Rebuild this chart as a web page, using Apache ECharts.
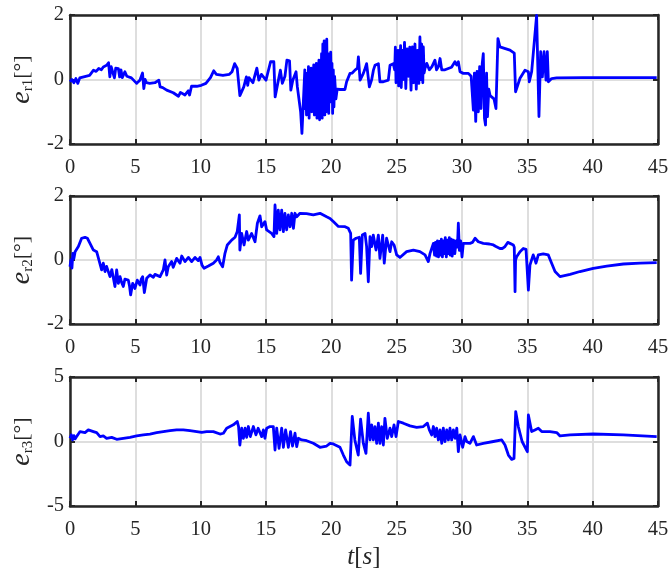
<!DOCTYPE html>
<html>
<head>
<meta charset="utf-8">
<script src="https://cdn.jsdelivr.net/npm/echarts@6/dist/echarts.min.js"></script>
<style>
html,body{margin:0;padding:0;background:#fff;}
#chart{width:672px;height:571px;}
</style>
</head>
<body>
<div id="chart"></div>
<script>
// ---- data: [t (s), value (deg)] ----
const xTicks = [0, 5, 10, 15, 20, 25, 30, 35, 40, 45];

const er1 = [
[0,-0.07],[0.15,0.0],[0.3,-0.1],[0.45,0.03],[0.6,-0.12],[0.75,0.05],[0.9,0.1],[1.2,0.1],[1.5,0.13],[1.8,0.29],[2.0,0.25],[2.2,0.34],[2.4,0.3],[2.55,0.39],[2.8,0.44],[2.95,0.52],[3.05,0.08],[3.15,0.4],[3.3,0.34],[3.4,0.05],[3.5,0.35],[3.7,0.34],[3.8,0.08],[3.9,0.3],[4.0,0.06],[4.2,0.24],[4.35,0.1],[4.5,0.16],[4.7,0.05],[4.85,0.03],[5.1,-0.12],[5.35,-0.02],[5.55,0.2],[5.65,-0.28],[5.75,0.0],[5.85,-0.1],[6.1,-0.12],[6.5,-0.1],[6.8,-0.02],[6.9,-0.23],[7.1,-0.25],[7.4,-0.33],[7.9,-0.41],[8.3,-0.52],[8.45,-0.4],[8.55,-0.43],[8.8,-0.48],[9.05,-0.35],[9.15,-0.48],[9.3,-0.21],[9.7,-0.21],[10.05,-0.18],[10.4,-0.12],[10.75,0.06],[11.0,0.27],[11.2,0.16],[11.7,0.13],[12.2,0.16],[12.4,0.24],[12.6,0.49],[12.8,0.34],[13.0,-0.5],[13.3,-0.23],[13.5,0.08],[13.6,-0.18],[13.7,0.06],[14.0,-0.1],[14.3,0.35],[14.45,-0.02],[14.65,0.16],[15.0,-0.02],[15.35,0.55],[15.6,0.55],[15.7,-0.54],[15.9,-0.12],[16.1,0.29],[16.25,-0.12],[16.45,0.1],[16.6,0.6],[16.8,0.58],[16.9,-0.33],[17.05,-0.02],[17.3,0.24],[17.4,-0.23],[17.5,-0.28],[17.65,-1.0],[17.75,-1.67],[17.9,-1.67],[17.97,0.3],
[18.0,-0.9],[18.05,0.2],[18.1,-1.1],[18.15,0.1],[18.2,-0.7],[18.25,0.4],[18.3,-1.2],[18.35,0.0],[18.4,-0.9],[18.45,0.35],[18.5,-1.0],[18.55,0.3],[18.6,-0.8],[18.65,0.45],[18.7,-1.1],[18.75,0.2],[18.8,-0.9],[18.85,0.5],[18.9,-1.2],[18.95,0.3],[19.0,-0.7],[19.05,0.6],[19.1,-1.25],[19.15,0.4],[19.2,-0.9],[19.25,0.8],[19.3,-1.2],[19.35,1.1],[19.4,-0.6],[19.45,1.2],[19.5,-1.1],[19.55,0.9],[19.6,-1.0],[19.65,1.25],[19.7,-0.5],[19.75,0.8],[19.8,-1.05],[19.85,0.6],[19.9,-0.7],[19.95,0.85],[20.0,-0.3],[20.05,0.5],[20.1,-1.05],[20.15,0.3],[20.2,-0.85],[20.25,0.1],[20.35,-0.6],[20.45,-0.3],[20.66,-0.31],[21.04,-0.31],[21.17,-0.07],[21.43,0.19],[21.6,0.2],[21.81,0.29],[22.0,0.35],[22.07,0.7],[22.2,-0.02],[22.45,0.19],[22.55,0.3],[22.7,0.49],[22.91,-0.23],[23.09,0.0],[23.22,0.29],[23.34,0.44],[23.6,0.49],[23.72,-0.07],[23.98,-0.07],[24.36,-0.02],[24.49,0.44],[24.74,0.49],
[24.85,0.3],[24.9,1.0],[24.95,-0.1],[25.0,0.7],[25.05,0.1],[25.1,0.9],[25.15,-0.2],[25.2,0.8],[25.25,0.2],[25.3,1.05],[25.35,-0.25],[25.45,0.9],[25.5,0.0],[25.6,1.15],[25.7,-0.28],[25.8,0.95],[25.9,0.1],[26.0,1.0],[26.1,-0.33],[26.2,1.01],[26.3,-0.1],[26.4,1.1],[26.5,-0.3],[26.6,0.9],[26.7,-0.12],[26.78,1.32],[26.85,0.0],[26.91,1.1],[27.0,-0.1],[27.04,1.01],[27.1,0.2],[27.17,0.35],[27.3,0.5],[27.42,0.55],[27.5,0.3],[27.7,0.4],[27.93,0.6],[28.05,0.3],[28.2,0.4],[28.32,0.65],[28.45,0.3],[28.57,0.34],[28.7,0.3],[28.83,0.34],[29.0,0.35],[29.2,0.38],[29.46,0.55],[29.6,0.45],[29.72,0.55],[29.85,0.24],[30.1,0.19],[30.49,0.19],[30.7,0.1],
[30.87,-0.95],[30.95,0.2],[31.05,-1.3],[31.15,0.25],[31.25,-1.0],[31.35,0.4],[31.45,-0.9],[31.55,0.5],[31.63,0.8],[31.72,-1.2],[31.8,-1.41],[31.88,0.2],[31.95,-1.15],[32.05,-0.3],[32.15,-0.5],[32.3,-0.45],[32.45,-0.6],[32.6,-0.9],[32.7,-0.85],[32.75,1.27],[32.9,1.01],[33.67,0.91],[34.0,0.82],[34.1,-0.38],[34.44,0.04],[34.82,0.29],[35.08,0.24],[35.15,-0.07],[35.33,0.24],[35.71,1.99],[35.89,-1.15],[36.02,0.86],[36.15,0.08],[36.28,0.86],[36.43,-0.02],[36.53,0.86],[36.61,-0.07],[36.86,0.03],[37.24,0.05],[39.28,0.06],[44.9,0.06]
];

const er2 = [
[0,-0.21],[0.07,0.0],[0.15,-0.25],[0.22,0.21],[0.3,0.05],[0.39,0.26],[0.5,0.25],[0.64,0.42],[0.89,0.68],[1.0,0.7],[1.15,0.71],[1.33,0.68],[1.53,0.52],[1.79,0.31],[1.9,0.25],[2.04,0.26],[2.15,0.1],[2.24,0.05],[2.42,-0.31],[2.55,-0.1],[2.68,-0.36],[2.8,-0.2],[2.93,-0.26],[3.06,-0.52],[3.2,-0.3],[3.32,-0.26],[3.44,-0.83],[3.57,-0.31],[3.7,-0.73],[3.83,-0.52],[3.95,-0.7],[4.08,-0.83],[4.2,-0.6],[4.29,-0.63],[4.46,-0.63],[4.55,-0.8],[4.64,-1.09],[4.8,-0.73],[4.97,-0.89],[5.15,-0.63],[5.36,-0.78],[5.45,-0.6],[5.56,-0.52],[5.69,-1.02],[5.87,-0.57],[6.12,-0.47],[6.38,-0.54],[6.5,-0.45],[6.63,-0.42],[6.89,-0.52],[7.14,-0.31],[7.27,0.0],[7.4,-0.47],[7.52,-0.21],[7.78,-0.05],[7.9,-0.23],[8.16,0.05],[8.42,-0.1],[8.55,0.125],[8.8,-0.05],[9.06,0.08],[9.31,-0.05],[9.57,0.08],[9.82,-0.02],[9.95,0.08],[10.1,-0.16],[10.26,-0.26],[10.59,-0.19],[10.97,-0.1],[11.22,0.0],[11.35,0.1],[11.48,-0.08],[11.68,-0.21],[11.86,0.21],[12.04,0.47],[12.37,0.62],[12.63,0.71],[12.8,0.89],[12.96,1.41],[13.0,0.31],[13.14,0.83],[13.32,0.47],[13.52,0.89],[13.65,0.62],[13.9,0.83],[14.16,0.57],[14.34,1.15],[14.54,1.38],[14.67,1.04],[14.92,1.2],[15.05,0.94],[15.18,0.89],[15.43,0.83],[15.61,0.73],[15.69,1.72],[15.82,0.83],[15.94,1.56],[16.07,0.94],[16.2,1.56],[16.33,0.89],[16.45,1.46],[16.58,0.94],[16.71,1.41],[16.84,1.04],[16.97,1.46],[17.1,0.99],[17.22,1.46],[17.35,1.35],[17.6,1.46],[18.1,1.45],[18.62,1.41],[19.13,1.46],[19.64,1.35],[19.9,1.3],[20.15,1.2],[20.28,1.15],[20.54,1.05],[20.66,1.05],[21.05,1.04],[21.3,0.99],[21.48,0.83],[21.55,-0.63],[21.68,0.62],[21.89,0.68],[22.0,0.65],[22.14,0.71],[22.24,-0.42],[22.37,0.78],[22.58,0.83],[22.7,0.42],[22.83,-0.68],[22.96,0.73],[23.09,0.42],[23.21,0.78],[23.42,0.31],[23.6,0.78],[23.72,0.05],[23.93,0.78],[24.05,-0.1],[24.23,0.68],[24.49,0.26],[24.62,0.57],[24.8,0.47],[25.0,0.16],[25.25,0.08],[25.76,0.26],[26.28,0.31],[26.78,0.26],[27.17,0.16],[27.42,-0.05],[27.55,0.2],[27.68,0.26],[27.81,0.52],
[27.9,0.15],[27.97,0.55],[28.05,0.12],[28.12,0.6],[28.2,0.1],[28.28,0.58],[28.35,0.15],[28.42,0.65],[28.5,0.1],[28.58,0.6],[28.65,0.2],[28.72,0.7],[28.8,0.1],[28.88,0.62],[28.95,0.2],[29.03,0.7],[29.1,0.15],[29.18,0.65],[29.25,0.12],[29.35,0.62],[29.45,0.2],[29.55,0.6],[29.65,0.4],[29.72,1.15],[29.8,0.3],[29.9,0.6],[30.0,0.1],[30.1,0.52],[30.23,0.52],[30.61,0.52],[30.8,0.55],[31.0,0.68],[31.25,0.57],[31.63,0.52],[32.1,0.5],[32.4,0.47],[32.6,0.42],[32.9,0.36],[33.1,0.36],[33.29,0.42],[33.5,0.55],[33.67,0.52],[33.93,0.47],[34.0,0.4],[34.06,-0.99],[34.1,0.0],[34.18,0.1],[34.44,0.26],[34.69,0.36],[34.9,0.33],[35.0,0.31],[35.08,-0.94],[35.2,-0.16],[35.45,0.16],[35.55,0.05],[35.66,-0.1],[35.84,0.16],[36.22,0.19],[36.6,0.16],[36.86,-0.1],[37.12,-0.36],[37.5,-0.52],[38.27,-0.45],[39.03,-0.36],[40.05,-0.26],[41.08,-0.19],[42.35,-0.125],[43.63,-0.1],[44.9,-0.08]
];

const er3 = [
[0,0.25],[0.1,0.51],[0.2,0.12],[0.3,0.45],[0.4,0.2],[0.5,0.38],[0.64,0.58],[0.77,0.77],[1.15,0.69],[1.4,0.9],[1.79,0.77],[2.04,0.69],[2.3,0.38],[2.55,0.43],[2.8,0.25],[3.19,0.32],[3.57,0.17],[4.08,0.25],[4.59,0.32],[5.1,0.43],[5.61,0.51],[6.12,0.58],[6.63,0.69],[7.14,0.77],[7.65,0.84],[8.16,0.9],[8.67,0.9],[9.18,0.84],[9.7,0.77],[10.08,0.71],[10.46,0.77],[10.97,0.77],[11.48,0.58],[11.74,0.64],[11.99,1.03],[12.5,1.29],[12.8,1.55],[12.9,1.16],[13.0,-0.27],[13.14,1.03],[13.27,0.25],[13.4,1.03],[13.52,0.32],[13.65,1.16],[13.8,0.38],[14.03,1.16],[14.23,0.51],[14.4,1.03],[14.67,0.38],[14.8,0.9],[14.92,0.25],[15.05,1.03],[15.31,1.16],[15.56,1.16],[15.69,-0.66],[15.82,1.03],[16.0,-0.53],[16.2,1.03],[16.33,-0.45],[16.5,0.9],[16.71,-0.45],[16.88,0.77],[17.03,-0.35],[17.22,0.64],[17.35,-0.4],[17.48,0.25],[17.73,0.12],[18.11,0.06],[18.62,-0.14],[19.13,-0.45],[19.64,-0.35],[19.9,-0.14],[20.15,-0.19],[20.28,-0.27],[20.66,-0.45],[20.92,-1.05],[21.17,-1.57],[21.43,-1.83],[21.6,1.94],[21.8,0.12],[22.06,-1.05],[22.24,1.73],[22.45,-0.14],[22.65,-0.92],[22.83,2.19],[22.96,0.12],[23.09,1.29],[23.21,0.12],[23.34,1.16],[23.47,-0.14],[23.6,1.42],[23.72,-0.14],[23.85,1.16],[23.98,-0.27],[24.1,1.8],[24.28,0.25],[24.49,1.03],[24.62,0.38],[24.8,1.29],[24.95,0.38],[25.13,1.55],[25.51,1.42],[26.02,1.21],[26.53,1.1],[27.04,1.16],[27.35,1.42],[27.5,0.9],
[27.68,0.51],[27.81,1.16],[27.93,0.38],[28.06,1.03],[28.19,0.12],[28.32,0.9],[28.45,-0.14],[28.57,1.03],[28.7,0.0],[28.83,0.9],[28.96,0.12],[29.08,1.03],[29.21,0.12],[29.34,0.9],[29.47,0.25],[29.6,1.03],[29.72,-0.79],[29.85,0.51],[30.05,-0.45],[30.23,0.38],[30.36,0.0],[30.61,-0.14],[30.87,0.38],[31.12,-0.27],[31.63,-0.14],[32.4,0.0],[33.04,0.12],[33.29,-0.27],[33.55,-1.05],[33.8,-1.39],[33.98,-1.31],[34.11,2.32],[34.31,1.16],[34.6,0.0],[35.0,-0.79],[35.08,2.06],[35.33,0.77],[35.58,0.9],[35.84,1.03],[36.1,0.77],[36.73,0.77],[37.25,0.69],[37.5,0.43],[38.27,0.51],[40.05,0.58],[42.35,0.51],[44.9,0.38]
];

const panels = [
  {data: er1, sub: 'r1', min: -2, max: 2, interval: 2},
  {data: er2, sub: 'r2', min: -2, max: 2, interval: 2},
  {data: er3, sub: 'r3', min: -5, max: 5, interval: 5}
];

// ---- styling ----
const FONT = 'Liberation Serif';
const INK = '#262626';
const gridPos = [
  {left: 70, top: 15, width: 588, height: 129},
  {left: 70, top: 196, width: 588, height: 128},
  {left: 70, top: 377, width: 588, height: 129}
];

const grids = [], xAxes = [], yAxes = [], series = [];
panels.forEach((p, i) => {
  grids.push(Object.assign({containLabel: false}, gridPos[i]));
  const axLine = {show: true, onZero: false, lineStyle: {color: INK, width: 2.5}};
  const tick = {show: true, inside: true, length: 5, lineStyle: {color: INK, width: 2}};
  xAxes.push({
    type: 'value', gridIndex: i, min: xTicks[0], max: xTicks[xTicks.length - 1], interval: 5,
    position: 'bottom', axisLine: axLine, axisTick: tick,
    axisLabel: {show: true, margin: 13, color: INK, fontFamily: FONT, fontSize: 20.5},
    splitLine: {show: true, lineStyle: {color: '#dedede', width: 2}},
    name: i === 2 ? '{i|t}{b|[}{i|s}{b|]}' : '',
    nameLocation: 'middle', nameGap: 39,
    nameTextStyle: {rich: {
      i: {fontFamily: FONT, fontStyle: 'italic', fontSize: 25, color: INK},
      b: {fontFamily: FONT, fontSize: 25, color: INK}
    }}
  });
  xAxes.push({
    type: 'value', gridIndex: i, min: 0, max: 45, interval: 5, position: 'top',
    axisLine: axLine, axisTick: tick, axisLabel: {show: false}, splitLine: {show: false}
  });
  yAxes.push({
    type: 'value', gridIndex: i, min: p.min, max: p.max, interval: p.interval,
    position: 'left', axisLine: axLine, axisTick: tick,
    axisLabel: {show: true, margin: 6, color: INK, fontFamily: FONT, fontSize: 20.5},
    splitLine: {show: true, lineStyle: {color: '#dedede', width: 2}},
    name: '{i|e}{s|' + p.sub + '}{b|[°]}',
    nameLocation: 'middle', nameGap: 29, nameRotate: 90,
    nameTextStyle: {rich: {
      i: {fontFamily: FONT, fontStyle: 'italic', fontSize: 28, color: INK},
      s: {fontFamily: FONT, fontSize: 15, color: INK, padding: [13, 0, 0, 0]},
      b: {fontFamily: FONT, fontSize: 22, color: INK}
    }}
  });
  yAxes.push({
    type: 'value', gridIndex: i, min: p.min, max: p.max, interval: p.interval,
    position: 'right', axisLine: axLine, axisTick: tick, axisLabel: {show: false}, splitLine: {show: false}
  });
  series.push({
    type: 'line', xAxisIndex: 2 * i, yAxisIndex: 2 * i, data: p.data,
    showSymbol: false, symbol: 'none', clip: true,
    lineStyle: {color: '#0000ff', width: 2.8, join: 'round'}
  });
});

const chart = echarts.init(document.getElementById('chart'), null, {renderer: 'canvas'});
chart.setOption({
  animation: false,
  backgroundColor: '#ffffff',
  grid: grids, xAxis: xAxes, yAxis: yAxes, series: series
});
</script>
</body>
</html>
